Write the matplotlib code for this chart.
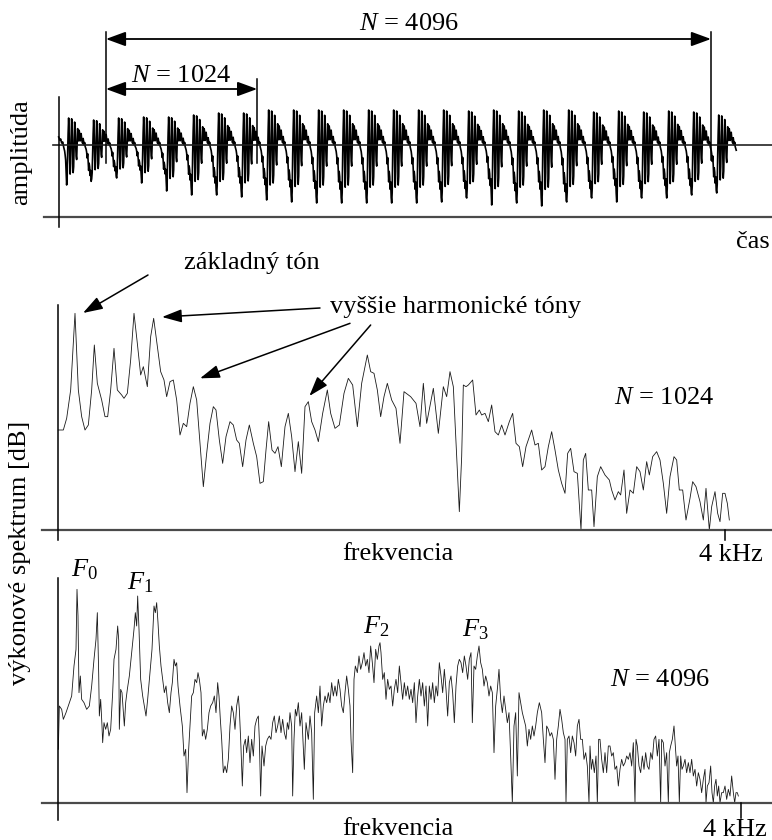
import numpy as np
import matplotlib
matplotlib.use('Agg')
import matplotlib.pyplot as plt

plt.rcParams['font.family'] = ['Liberation Serif', 'DejaVu Serif']
plt.rcParams['mathtext.fontset'] = 'custom'
plt.rcParams['mathtext.rm'] = 'Liberation Serif'
plt.rcParams['mathtext.it'] = 'Liberation Serif:italic'

# ---- time signal (one pitch period shape, plus per-period extremes)
lead_in = [8, 7, 5, 5, 6, 4, 2, 2, 3, 1, -2, -4, -6, -10, -15, -28]
period_shape = [-55, -45, -10, 15, 33, 15, -20, -40, -25, 10, 32, 22, -5, -38, -30, 0,
                28, 22, 0, -15, -20, 0, 20, 15, 5, 18, 14, 5, 8, 14, 8, 4, 2, 8, 4, 0,
                3, -2, -4, -6, -10, -18, -12, -22, -35, -25, -30, -42, -35, -50]
trough_depth = [40, 34, 33, 38, 46, 50, 50, 52, 55, 57, 58, 58, 58, 58, 58, 57, 53, 60, 58,
                61, 57, 53, 57, 53, 53, 50, 48]
peak_height = [27, 25, 27, 28, 28, 30, 32, 32, 35, 35, 35, 35, 35, 35, 35, 35, 34, 35, 34,
               35, 35, 33, 34, 33, 34, 33, 30]
samples_per_point = 4096 / 605 / 2
window_start = 320
window_sizes = [1024, 4096]

# ---- power spectrum, N = 1024 (Hz, dB above floor)
freq_1024 = [2, 32, 52, 76, 102, 122, 142, 162, 182, 202, 218, 236, 262, 282, 298, 316, 336,
             356, 382, 396, 416, 436, 456, 476, 496, 512, 536, 556, 574, 596, 616, 636, 652,
             672, 692, 712, 732, 752, 772, 792, 812, 832, 852, 872, 892, 912, 932, 948, 968,
             988, 1008, 1032, 1052, 1072, 1088, 1108, 1128, 1148, 1172, 1192, 1212, 1232,
             1248, 1264, 1284, 1302, 1320, 1340, 1362, 1382, 1402, 1422, 1442, 1462, 1482,
             1502, 1522, 1542, 1562, 1588, 1616, 1636, 1662, 1688, 1716, 1742, 1768, 1796,
             1822, 1856, 1876, 1896, 1916, 1936, 1956, 1976, 2002, 2028, 2052, 2076, 2116,
             2148, 2172, 2192, 2212, 2252, 2282, 2312, 2332, 2352, 2372, 2392, 2408, 2422,
             2432, 2448, 2462, 2488, 2508, 2528, 2542, 2562, 2582, 2602, 2622, 2642, 2662,
             2682, 2708, 2728, 2748, 2768, 2788, 2808, 2842, 2862, 2882, 2902, 2922, 2942,
             2962, 2982, 3002, 3022, 3042, 3058, 3076, 3096, 3116, 3138, 3152, 3166, 3182,
             3202, 3216, 3236, 3256, 3282, 3308, 3322, 3342, 3362, 3376, 3396, 3412, 3432,
             3452, 3472, 3492, 3512, 3532, 3548, 3568, 3592, 3612, 3632, 3652, 3672, 3696,
             3712, 3728, 3748, 3768, 3792, 3808, 3828, 3852, 3872, 3888, 3908, 3922, 3942,
             3958, 3972, 3988, 4002, 4016, 4028]
level_1024 = [30, 30, 33.5, 42, 65, 42, 34, 30, 31.5, 42, 55.5, 44, 39, 34, 34, 42, 54.5, 42,
              40.5, 39.5, 41, 51, 65, 56, 46.5, 49, 43, 58, 63.5, 55, 47.5, 45, 40, 44.5, 45,
              39, 28.5, 32, 31, 38, 43, 39, 26, 13, 23, 32, 37, 36, 27, 20, 28, 32.5, 31.5,
              27, 26, 19, 27, 31.5, 26, 22, 14, 14.5, 24, 32.5, 24, 23, 25, 19, 31, 35, 28,
              17.5, 26.5, 17, 37, 38.5, 32.5, 30, 26.5, 35, 42, 35, 30.5, 31.5, 41, 45.5,
              43.5, 31, 44, 52.5, 47.5, 47, 42, 34, 40, 44, 39, 36.5, 26, 41.5, 40, 38, 31,
              44, 32, 42.5, 29, 43, 40, 47.5, 43, 22, 5.5, 22, 43.5, 43, 43.5, 45, 34.5, 36,
              34.5, 35, 32.5, 37.5, 29.5, 28.5, 31.5, 28.5, 32.5, 35, 26, 25, 19, 25, 30,
              25.5, 26, 18, 19, 25, 29.5, 24, 18, 14, 11, 23, 24.5, 17.5, 17, 0, 21, 23, 12,
              12, 1, 16, 19, 16.5, 15, 12, 9, 11.5, 10.5, 18, 5, 12, 11, 19, 17.5, 12, 20.5,
              16.5, 22, 23.5, 21, 14, 5, 16, 22, 21, 12, 12, 3, 9.5, 14.5, 13, 8.5, 3, 12.5,
              0, 7, 11.5, 5, 2.5, 11, 11, 8, 3]

# ---- power spectrum, N = 4096 (FFT bin 0..2048 = 0..4 kHz, dB above floor)
bins_4096 = [1, 4, 11, 16, 24, 34, 41, 48, 54, 57, 60, 63, 67, 71, 78, 86, 94, 101, 108, 114,
             118, 122, 124, 128, 132, 134, 138, 143, 148, 153, 158, 164, 168, 174, 179, 182,
             184, 188, 192, 196, 199, 203, 208, 214, 221, 228, 232, 236, 239, 243, 248, 254,
             259, 264, 269, 276, 282, 288, 292, 296, 300, 304, 309, 314, 319, 324, 329, 334,
             339, 343, 348, 352, 356, 360, 366, 373, 378, 383, 387, 392, 397, 401, 406, 411,
             416, 420, 424, 429, 433, 438, 443, 448, 453, 458, 464, 469, 474, 479, 483, 487,
             491, 496, 501, 506, 511, 516, 521, 526, 531, 536, 541, 544, 548, 553, 557, 562,
             566, 571, 576, 581, 586, 591, 596, 601, 604, 608, 612, 618, 623, 628, 634, 639,
             644, 649, 654, 659, 664, 669, 674, 679, 684, 688, 692, 696, 701, 704, 708, 712,
             716, 721,
             726, 731, 736, 739, 744, 751, 756, 761, 766, 770, 776, 781, 786, 791, 796, 801,
             806, 811, 816, 821, 826, 831, 836, 841, 846, 851, 856, 861, 866, 871, 876, 879,
             884, 888, 892, 898, 903, 908, 913, 918, 923, 928, 933, 938, 943, 948, 953, 958,
             963, 966, 969, 974, 979, 984, 989, 994, 999, 1004, 1009, 1014, 1019, 1024, 1029,
             1034, 1039, 1044, 1049, 1054, 1059, 1064, 1069, 1074, 1079, 1084, 1089, 1094,
             1099, 1104, 1109, 1114, 1119, 1124, 1129, 1134, 1139, 1144, 1149, 1154, 1159,
             1164, 1169, 1174, 1179, 1184, 1189, 1194, 1199, 1204, 1209, 1214, 1219, 1224,
             1229, 1234, 1239, 1243, 1248, 1253, 1258, 1263, 1268, 1273, 1278, 1283, 1288,
             1293, 1298, 1303, 1308, 1313, 1318, 1323, 1328, 1333, 1338, 1343, 1348, 1353,
             1358, 1363, 1368, 1373, 1378, 1383, 1388, 1393, 1398, 1403, 1408, 1413, 1418,
             1423, 1428, 1433, 1438, 1444,
             1451, 1456, 1461, 1466, 1471, 1476, 1481, 1486, 1491, 1496, 1501, 1506, 1511,
             1516, 1521, 1524, 1528, 1533, 1538, 1543, 1548, 1553, 1558, 1563, 1568, 1573,
             1578, 1583, 1588, 1593, 1596, 1600, 1604, 1609, 1614, 1618, 1622, 1626, 1631,
             1636, 1641, 1646, 1651, 1656, 1661, 1666, 1671, 1676, 1681, 1686, 1691, 1696,
             1701, 1706, 1711, 1716, 1721, 1726, 1731, 1734, 1738, 1743, 1748, 1753, 1758,
             1763, 1768, 1773, 1778, 1783, 1788, 1793, 1798, 1803, 1808, 1811, 1816, 1821,
             1826, 1831, 1834, 1838, 1843, 1848, 1852, 1856, 1860, 1864, 1868, 1872, 1876,
             1881, 1886, 1891, 1896, 1901, 1906, 1911, 1916, 1921, 1926, 1931, 1936, 1941,
             1944, 1948, 1953, 1958, 1962, 1966, 1970, 1974, 1978, 1982, 1986, 1991, 1996,
             2001, 2006, 2011, 2016, 2021, 2026, 2030, 2034, 2038, 2041]
level_4096 = [16, 29, 28, 25, 27, 30, 32, 41, 46, 64, 56, 33, 38, 31, 30, 28, 29, 35, 43, 49,
              57, 39, 26, 31, 23, 18, 24, 22, 24, 20, 22, 33, 43, 46, 53, 49, 22, 34, 33, 27,
              23, 30, 34, 38, 45, 52, 57, 53, 62, 52, 37, 32, 29, 26, 31, 39, 46, 59, 57, 60,
              54, 47, 41, 37, 33, 35, 30, 27, 33, 36, 43, 41, 42, 35, 29, 23, 14, 16, 3, 16,
              25, 32, 33, 37, 36, 39, 37, 33, 20, 22, 19, 22, 27, 29, 30, 32, 27, 36, 32, 25,
              19, 9, 11, 9, 13, 23, 29, 27, 22, 29, 32, 28, 19, 5, 17, 19, 15, 20, 12, 19,
              14, 23, 25, 26, 19, 2, 17, 11, 17, 19, 20, 19, 24, 26, 21, 23, 26, 21, 25, 21,
              19, 24, 22, 27, 23, 2, 19, 28, 26, 30,
              23, 27, 16, 10, 24, 19, 26, 21, 1, 27, 32, 27, 35, 23, 29, 32, 30, 33, 30, 36,
              32, 35, 32, 37, 34, 29, 27, 33, 38, 34, 29, 19, 9, 37, 41, 39, 44, 40, 42, 45,
              41, 43, 39, 47, 42, 36, 46, 43, 47, 48, 45, 37, 39, 31, 37, 34, 35, 29, 34, 37,
              33, 41, 36, 31, 36, 32, 35, 31, 34, 30, 36, 24, 32, 37, 32, 36, 29, 35, 23, 35,
              31, 36, 30, 35, 32, 42, 38, 33, 40, 34, 26, 36, 38, 33, 24, 35, 41, 43, 42, 39,
              44, 41, 37, 43, 45, 24, 41, 40, 44, 47, 42, 40, 35, 38, 36, 32, 35, 33, 15, 29,
              34, 40, 31, 27, 32, 28, 24, 27, 14, 0, 23, 27, 8, 33, 30, 27, 25, 23, 17, 22,
              19, 23, 20, 23, 27, 30,
              27, 19, 12, 23, 22, 20, 21, 19, 7, 19, 23, 28, 25, 21, 19, 0, 19, 20, 15, 20,
              18, 14, 23, 25, 19, 19, 13, 15, 11, 0, 17, 10, 13, 9, 14, 0, 19, 19, 13, 9,
              15, 9, 17, 17, 14, 15, 10, 11, 5, 10, 13, 11, 12, 14, 13, 15, 11, 18, 0, 19,
              17, 11, 9, 14, 10, 15, 11, 10, 15, 13, 19, 20, 14, 19, 0, 19, 18, 11, 15, 0,
              15, 17, 19, 23, 17, 11, 14, 0, 14, 10, 11, 13, 9, 12, 9, 13, 8, 10, 5, 9,
              7, 3, 7, 10, 0, 5, 6, 11, 3, 0, 5, 7, 2, 5, 0, 3, 3, 5, 1, 4,
              2, 8, 3, 0, 3, 3, 2]

W, H = 772, 840
fig = plt.figure(figsize=(W / 100, H / 100), dpi=100)


def panel(top_px, bottom_px):
    ax = fig.add_axes([0, 1 - bottom_px / H, 1, (bottom_px - top_px) / H])
    ax.set_axis_off()
    return ax


def px(x, y):
    return x / W, 1 - y / H


FS = 19
axis_col = '#4a4a4a'
trace_col = '#1a1a1a'
arrow = dict(arrowstyle='-|>,head_length=0.6,head_width=0.2', mutation_scale=20,
             lw=1.1, color='black', shrinkA=0, shrinkB=0)
darrow = dict(arrowstyle='<|-|>,head_length=0.6,head_width=0.22', mutation_scale=20,
              lw=1.3, color='black', shrinkA=0, shrinkB=0)

# ---------------- top: time signal
wave = list(lead_in)
for d, p in zip(trough_depth, peak_height):
    wave += [v * d / 55 if v < 0 else v * p / 33 for v in period_shape]
wave = np.array(wave[:-10])
t = np.arange(len(wave)) * samples_per_point

ax_t = panel(0, 250)
ax_t.set_xlim(-397, 4829)
ax_t.set_ylim(-105, 145)
ax_t.plot(t, wave, color='black', lw=1.2)
ax_t.plot([-39, 4829], [0, 0], color='#222222', lw=1.2)
ax_t.plot([-100, 4829], [-71.7, -71.7], color=axis_col, lw=1.6)
ax_t.plot([0, 0], [48, -82], color='black', lw=1.1)

w_end = [window_start + n for n in window_sizes]
ax_t.plot([window_start] * 2, [113, -18], color='black', lw=1.1)
ax_t.plot([w_end[0]] * 2, [66, -18], color='black', lw=1.1)
ax_t.plot([w_end[1]] * 2, [113, -15], color='black', lw=1.1)
ax_t.annotate('', xy=(w_end[1], 106), xytext=(window_start, 106), arrowprops=darrow)
ax_t.annotate('', xy=(w_end[0], 56), xytext=(window_start, 56), arrowprops=darrow)
ax_t.text((window_start + w_end[1]) / 2, 121, '$N$ = %d' % window_sizes[1],
          ha='center', va='center', fontsize=FS)
ax_t.text((window_start + w_end[0]) / 2, 69, '$N$ = %d' % window_sizes[0],
          ha='center', va='center', fontsize=FS)

fig.text(*px(21, 152), 'amplitúda', rotation=90, ha='center', va='center', fontsize=FS)
fig.text(*px(753, 242), 'čas', ha='center', va='center', fontsize=FS)

# ---------------- middle: spectrum N = 1024
ax_m = panel(250, 560)
ax_m.set_xlim(-348, 4284)
ax_m.set_ylim(-9, 84)
ax_m.plot(freq_1024, level_1024, color=trace_col, lw=0.6)
ax_m.plot([-96, 4284], [0, 0], color=axis_col, lw=1.6)
ax_m.plot([0, 0], [67.5, -3], color='black', lw=1.1)
ax_m.plot([4000, 4000], [0, -3], color='black', lw=1.1)

fig.text(*px(252, 263), 'základný tón', ha='center', va='center', fontsize=FS)
ax_m.annotate('', xy=(150, 65.1), xytext=(540, 76.5), arrowprops=arrow)
fig.text(*px(456, 307), 'vyššie harmonické tóny', ha='center', va='center', fontsize=FS)
ax_m.annotate('', xy=(624, 63.9), xytext=(1572, 66.6), arrowprops=arrow)
ax_m.annotate('', xy=(852, 45.5), xytext=(1752, 62), arrowprops=arrow)
ax_m.annotate('', xy=(1508, 40.2), xytext=(1876, 61.5), arrowprops=arrow)
fig.text(*px(664, 398), '$N$ = 1024', ha='center', va='center', fontsize=FS)
fig.text(*px(398, 554), 'frekvencia', ha='center', va='center', fontsize=FS)
fig.text(*px(731, 555), '4 kHz', ha='center', va='center', fontsize=FS)

# ---------------- bottom: spectrum N = 4096
ax_b = panel(560, 840)
ax_b.set_xlim(-174, 2142)
ax_b.set_ylim(-11.2, 72.8)
ax_b.plot(bins_4096, level_4096, color=trace_col, lw=0.6)
ax_b.plot([-48, 2142], [0, 0], color=axis_col, lw=1.6)
ax_b.plot([0, 0], [67.4, -5.2], color='black', lw=1.1)
ax_b.plot([2048, 2048], [0, -4.5], color='black', lw=1.1)
for b, lv, lab in [(78, 69.8, '$F_0$'), (246, 66, '$F_1$'), (954, 52.7, '$F_2$'),
                   (1251, 51.8, '$F_3$')]:
    ax_b.text(b, lv, lab, ha='center', va='center', fontsize=FS)
fig.text(*px(660, 680), '$N$ = 4096', ha='center', va='center', fontsize=FS)
fig.text(*px(398, 829), 'frekvencia', ha='center', va='center', fontsize=FS)
fig.text(*px(735, 830), '4 kHz', ha='center', va='center', fontsize=FS)

fig.text(*px(20, 553), 'výkonové spektrum [dB]', rotation=90, ha='center', va='center',
         fontsize=FS)

fig.savefig('out.png', dpi=100)
